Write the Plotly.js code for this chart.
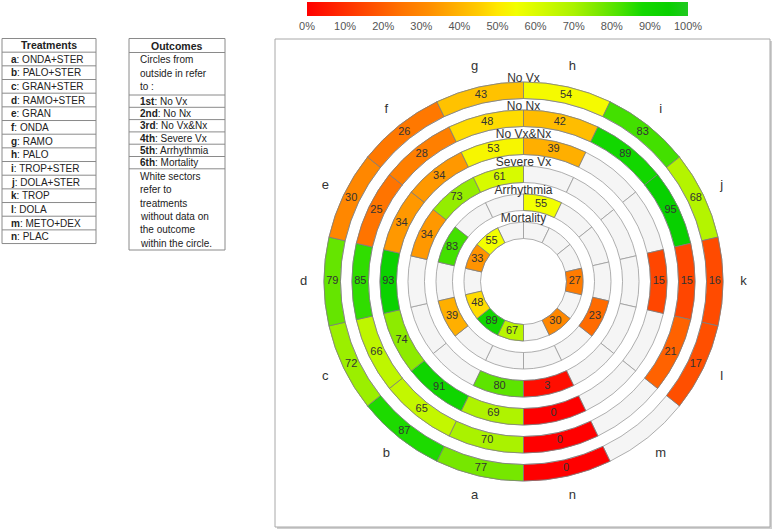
<!DOCTYPE html>
<html>
<head>
<meta charset="utf-8">
<script src="https://cdn.plot.ly/plotly-3.0.1.min.js"></script>
<style>html,body{margin:0;padding:0;background:#fff;}#chart{width:778px;height:531px;}</style>
</head>
<body>
<div id="chart"></div>
<script>
// ---- data ----
const letters = ['a','b','c','d','e','f','g','h','i','j','k','l','m','n'];
const treatments = ['ONDA+STER','PALO+STER','GRAN+STER','RAMO+STER','GRAN','ONDA','RAMO','PALO','TROP+STER','DOLA+STER','TROP','DOLA','METO+DEX','PLAC'];
const outcomeNames = ['No Vx','No Nx','No Vx&Nx','Severe Vx','Arrhythmia','Mortality'];
const outcomeOrd = ['1st','2nd','3rd','4th','5th','6th'];
const noVx       = [77,87,72,79,30,26,43,54,83,68,16,17,null,0];
const noNx       = [70,65,66,85,25,28,48,42,89,95,15,21,null,0];
const noVxNx     = [69,91,74,93,34,34,53,39,null,null,15,null,null,0];
const severeVx   = [80,null,null,null,34,73,61,null,null,null,null,null,null,3];
const arrhythmia = [null,null,39,null,83,null,null,55,null,null,null,23,null,null];
const mortality  = [67,89,48,null,33,55,null,null,null,null,27,null,30,null];
const rings = [noVx, noNx, noVxNx, severeVx, arrhythmia, mortality];
const pctTicks = [0,10,20,30,40,50,60,70,80,90,100];
const pctLabels = pctTicks.map(v => v + '%');

// ---- styling ----
const W = 778, H = 531;
const FONT = 'Liberation Sans, Arial, sans-serif';
const colorscale = [
  [0,'#ff0000'],[0.15,'#ff4600'],[0.25,'#ff7400'],[0.32,'#ff8e00'],[0.4,'#ffb400'],
  [0.45,'#ffcb00'],[0.5,'#ffe800'],[0.55,'#f2ff00'],[0.62,'#d2fa00'],[0.7,'#aaf200'],
  [0.76,'#7ee800'],[0.82,'#4ce200'],[0.88,'#14d800'],[0.95,'#08d000'],[1,'#20c820']
];
const Rmax = 199.5, ringStep = 28, thick = 16.5, Rview = 240, Rletter = 220;
const cx = 523.5, cy = 281.5;
const outerR = rings.map((_, k) => Rmax - ringStep * k);
const step = 360 / letters.length;
const thetas = letters.map((_, i) => step * (i + 0.5));

const traces = [];
// background (white) sectors
rings.forEach((vals, k) => {
  traces.push({
    type: 'barpolar', theta: thetas, r: thetas.map(() => thick), base: thetas.map(() => outerR[k] - thick),
    width: thetas.map(() => step),
    marker: { color: '#f5f5f5', line: { color: '#9a9a9a', width: 0.8 } },
    hoverinfo: 'skip', showlegend: false
  });
});
// coloured sectors
rings.forEach((vals, k) => {
  const idx = vals.map((v, i) => v === null ? -1 : i).filter(i => i >= 0);
  const tr = {
    type: 'barpolar', theta: idx.map(i => thetas[i]), r: idx.map(() => thick),
    base: idx.map(() => outerR[k] - thick), width: idx.map(() => step),
    marker: {
      color: idx.map(i => vals[i]), colorscale: colorscale, cmin: 0, cmax: 100,
      line: { color: '#7d7d7d', width: 0.8 }, showscale: k === 0
    },
    showlegend: false, hoverinfo: 'skip'
  };
  if (k === 0) {
    tr.marker.colorbar = {
      orientation: 'h', x: 497.5 / W, xanchor: 'center', y: 1 - 2 / H, yanchor: 'top',
      lenmode: 'pixels', len: 381, thicknessmode: 'pixels', thickness: 14,
      xpad: 0, ypad: 0, outlinewidth: 0, ticks: '', tickvals: pctTicks, ticktext: pctLabels,
      tickfont: { family: FONT, size: 11, color: '#555' }
    };
  }
  traces.push(tr);
  traces.push({
    type: 'scatterpolar', mode: 'text', theta: idx.map(i => thetas[i]), r: idx.map(() => outerR[k] - thick / 2),
    text: idx.map(i => String(vals[i])), textfont: { family: FONT, size: 11, color: '#333' },
    showlegend: false, hoverinfo: 'skip'
  });
});
// ring titles
traces.push({
  type: 'scatterpolar', mode: 'text', theta: outerR.map(() => 180), r: outerR.map(r => r + 3.5),
  text: outcomeNames, textposition: 'middle center', textfont: { family: FONT, size: 12, color: '#333' },
  showlegend: false, hoverinfo: 'skip', cliponaxis: false
});
// sector letters
traces.push({
  type: 'scatterpolar', mode: 'text', theta: thetas, r: thetas.map(() => Rletter),
  text: letters, textfont: { family: FONT, size: 13, color: '#333' },
  showlegend: false, hoverinfo: 'skip', cliponaxis: false
});

// ---- tables & frame (layout) ----
const px = x => x / W, py = y => 1 - y / H;
const shapes = [], annotations = [];
function rect(x0, y0, x1, y1, opt) {
  shapes.push(Object.assign({ type: 'rect', xref: 'paper', yref: 'paper', x0: px(x0), x1: px(x1), y0: py(y1), y1: py(y0), layer: 'below' }, opt));
}
function hline(x0, x1, y) {
  shapes.push({ type: 'line', xref: 'paper', yref: 'paper', x0: px(x0), x1: px(x1), y0: py(y), y1: py(y), line: { color: '#8a8a8a', width: 1 }, layer: 'below' });
}
function label(x, y, txt, anchor, size) {
  annotations.push({ xref: 'paper', yref: 'paper', x: px(x), y: py(y), text: txt, showarrow: false,
    xanchor: anchor || 'left', yanchor: 'middle', font: { family: FONT, size: size || 10, color: '#222' } });
}
// chart frame with shadow
rect(277, 41, 772, 529, { fillcolor: '#cfcfcf', line: { width: 0 } });
rect(275, 39, 770, 527, { fillcolor: '#ffffff', line: { color: '#a8a8a8', width: 1 } });

// treatments table
const tTop = 38.5, tRow = 13.67, tL = 2, tR = 96;
rect(tL, tTop, tR, tTop + tRow * 15, { fillcolor: 'rgba(0,0,0,0)', line: { color: '#8a8a8a', width: 1 } });
for (let k = 1; k < 15; k++) hline(tL, tR, tTop + tRow * k);
label((tL + tR) / 2, tTop + tRow / 2, '<b>Treatments</b>', 'center', 10.5);
treatments.forEach((t, i) => label(9, tTop + tRow * (i + 1.5), '<b>' + letters[i] + '</b>: ' + t));

// outcomes table
const oL = 129, oR = 225, oTop = 38.5, oBot = 250;
rect(oL, oTop, oR, oBot, { fillcolor: 'rgba(0,0,0,0)', line: { color: '#8a8a8a', width: 1 } });
const oLines = [52.5, 95, 107.3, 119.6, 131.9, 144.2, 156.5, 168.8];
oLines.forEach(y => hline(oL, oR, y));
label((oL + oR) / 2, 45.5, '<b>Outcomes</b>', 'center', 10.5);
['Circles from', 'outside in refer', 'to :'].forEach((t, i) => label(138, 60 + 13.5 * i, t));
outcomeNames.forEach((n, i) => label(138, 101.2 + 12.3 * i, '<b>' + outcomeOrd[i] + '</b>: ' + n));
['White sectors', 'refer to', 'treatments', 'without data on', 'the outcome', 'within the circle.'].forEach((t, i) => label(138, 176.5 + 13.3 * i, t));

const layout = {
  width: W, height: H, margin: { l: 0, r: 0, t: 0, b: 0 },
  paper_bgcolor: '#ffffff', showlegend: false,
  polar: {
    domain: { x: [(cx - Rview) / W, (cx + Rview) / W], y: [(H - cy - Rview) / H, (H - cy + Rview) / H] },
    bgcolor: 'rgba(0,0,0,0)', barmode: 'overlay', hole: 0,
    radialaxis: { range: [0, Rview], visible: false, showgrid: false },
    angularaxis: { direction: 'clockwise', rotation: -90, visible: false, showgrid: false, showline: false, ticks: '' }
  },
  shapes: shapes, annotations: annotations
};
Plotly.newPlot('chart', traces, layout, { staticPlot: true, displayModeBar: false });
</script>
</body>
</html>
